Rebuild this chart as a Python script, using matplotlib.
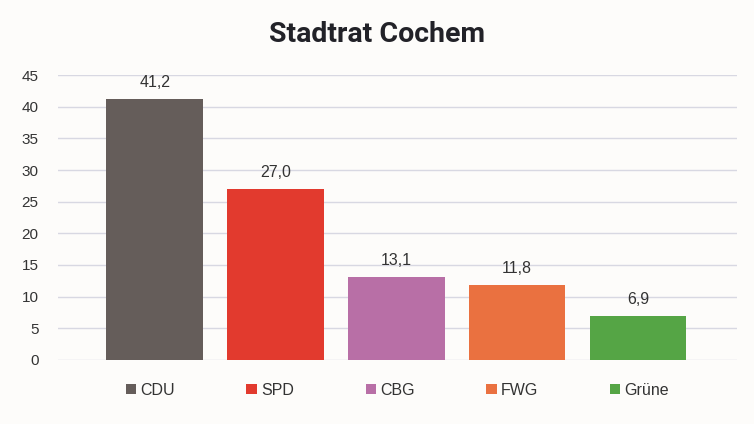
import matplotlib
matplotlib.use("Agg")
import matplotlib.pyplot as plt
from matplotlib.patches import Patch

parties = ["CDU", "SPD", "CBG", "FWG", "Grüne"]
values = [41.2, 27.0, 13.1, 11.8, 6.9]
labels = ["41,2", "27,0", "13,1", "11,8", "6,9"]
colors = ["#655D5A", "#E23A2E", "#B86FA6", "#EA7140", "#55A545"]
yticks = [0, 5, 10, 15, 20, 25, 30, 35, 40, 45]

bg = "#FDFCFA"
fig = plt.figure(figsize=(7.54, 4.24), dpi=100, facecolor=bg)
ax = fig.add_axes([0.0769, 0.151, 0.9006, 0.672], facecolor=bg)

x = list(range(len(parties)))
ax.bar(x, values, width=0.80, color=colors, zorder=3)
for xi, v, lab in zip(x, values, labels):
    ax.text(xi, v + 1.5, lab, ha="center", va="bottom", fontsize=11.5,
            family="Liberation Sans", color="#333333", zorder=4)

ax.set_xlim(-0.80, 4.82)
ax.set_ylim(0, 45)
ax.set_yticks(yticks)
ax.set_yticklabels([str(t) for t in yticks], fontsize=11, family="Liberation Sans", color="#333333")
ax.set_xticks([])
ax.grid(axis="y", color="#D8D8E2", linewidth=1.0, zorder=0)
for s in ax.spines.values():
    s.set_visible(False)
ax.tick_params(axis="y", length=0, pad=14)

fig.text(0.5, 0.918, "Stadtrat Cochem", ha="center", va="center", fontsize=20.5,
         fontweight="bold", family="Roboto", color="#222228")

handles = [Patch(facecolor=c, edgecolor="none") for c in colors]
leg = fig.legend(handles, parties, loc="center", bbox_to_anchor=(0.527, 0.08), ncol=5,
                 frameon=False, handlelength=0.65, handleheight=0.65, handletextpad=0.25,
                 columnspacing=4.5, prop={"family": "Liberation Sans", "size": 11.5})
for t in leg.get_texts():
    t.set_color("#333333")

fig.savefig("out.png", dpi=100, facecolor=bg)
